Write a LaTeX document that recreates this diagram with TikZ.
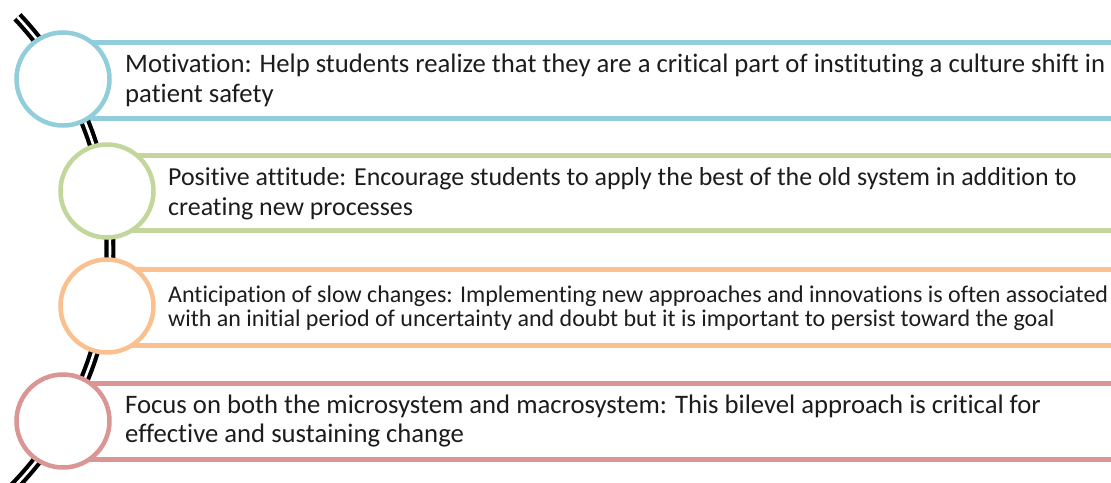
\documentclass[tikz,border=0pt]{standalone}
\usepackage{fontspec}
\setmainfont{Carlito}[Ligatures={NoCommon}]
\definecolor{cblue}{RGB}{146,205,220}
\definecolor{cgreen}{RGB}{195,214,155}
\definecolor{corange}{RGB}{250,192,143}
\definecolor{cred}{RGB}{217,150,148}
\definecolor{ctext}{RGB}{28,28,28}
\begin{document}
\begin{tikzpicture}[x=1pt,y=-1pt,
  barline/.style={line width=5pt},
  ring/.style={circle,minimum size=93pt,inner sep=0pt,line width=4.5pt,fill=white},
  spine/.style={draw=black,line width=4.2pt,double=white,double distance=2.6pt},
  txt/.style={anchor=base west,inner sep=0pt,text=ctext,font=\fontsize{#1}{30}\selectfont}]
\useasboundingbox (0,0) rectangle (1111,482);
\clip (0,0) rectangle (1111,482);
% bars
\coordinate (b1s) at (63,42);  \coordinate (b1e) at (1120,42);
\coordinate (b1t) at (63,118); \coordinate (b1f) at (1120,118);
\draw[barline,cblue] (b1s) -- (b1e); \draw[barline,cblue] (b1t) -- (b1f);
\coordinate (b2s) at (107,155); \coordinate (b2e) at (1120,155);
\coordinate (b2t) at (107,230); \coordinate (b2f) at (1120,230);
\draw[barline,cgreen] (b2s) -- (b2e); \draw[barline,cgreen] (b2t) -- (b2f);
\coordinate (b3s) at (107,269); \coordinate (b3e) at (1120,269);
\coordinate (b3t) at (107,345); \coordinate (b3f) at (1120,345);
\draw[barline,corange] (b3s) -- (b3e); \draw[barline,corange] (b3t) -- (b3f);
\coordinate (b4s) at (63,383); \coordinate (b4e) at (1120,383);
\coordinate (b4t) at (63,459); \coordinate (b4f) at (1120,459);
\draw[barline,cred] (b4s) -- (b4e); \draw[barline,cred] (b4t) -- (b4f);
% spine arc
\coordinate (arcc) at (-230,250);
\draw[spine] ([shift={(43.3:340pt)}]-230,250) arc[start angle=43.3,end angle=-48,radius=340pt];
% circles
\node[ring,draw=cblue] (c1) at (63,79) {};
\node[ring,draw=cgreen] (c2) at (107,191) {};
\node[ring,draw=corange] (c3) at (107,306) {};
\node[ring,draw=cred] (c4) at (63,421) {};
% texts
\node[txt=26.7] (t1a) at (125,72) {Motivation: Help students realize that they are a critical part of instituting a culture shift in};
\node[txt=26.7] (t1b) at (125,102) {patient safety};
\node[txt=25.9] (t2a) at (168,185) {Positive attitude: Encourage students to apply the best of the old system in addition to};
\node[txt=25.9] (t2b) at (168,215) {creating new processes};
\node[txt=24] (t3a) at (168,302) {Anticipation of slow changes: Implementing new approaches and innovations is often associated};
\node[txt=24] (t3b) at (168,326) {with an initial period of uncertainty and doubt but it is important to persist toward the goal};
\node[txt=26.7] (t4a) at (125,413) {Focus on both the microsystem and macrosystem: This bilevel approach is critical for};
\node[txt=26.7] (t4b) at (125,442) {effective and sustaining change};
\end{tikzpicture}
\end{document}
